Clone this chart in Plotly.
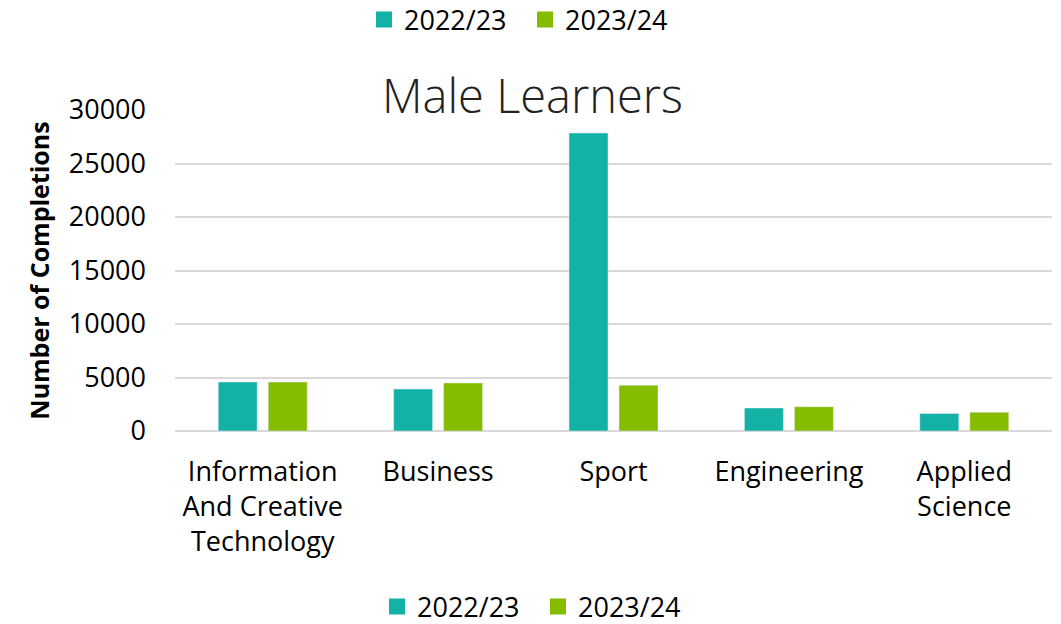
import plotly.graph_objects as go

categories = ['Information<br>And Creative<br>Technology', 'Business', 'Sport', 'Engineering', 'Applied<br>Science']
completions_2022_23 = [4580, 3920, 27850, 2150, 1630]
completions_2023_24 = [4580, 4490, 4270, 2270, 1750]
series_names = ['2022/23', '2023/24']

teal = '#13B1A6'
green = '#86BC00'
font = 'Open Sans'

fig = go.Figure()
fig.add_trace(go.Bar(x=categories, y=completions_2022_23, name=series_names[0],
                     marker=dict(color=teal), showlegend=False))
fig.add_trace(go.Bar(x=categories, y=completions_2023_24, name=series_names[1],
                     marker=dict(color=green), showlegend=False))

# legend entries (big square swatches), shown both above and below the chart
for lg in ['legend', 'legend2']:
    for name, col in zip(series_names, [teal, green]):
        fig.add_trace(go.Scatter(x=[None], y=[None], mode='markers', name=name,
                                 marker=dict(color=col, symbol='square', size=21),
                                 legend=lg))

# white box behind the title that hides the top gridline
fig.add_shape(type='rect', xref='paper', yref='paper',
              x0=(360 - 175) / 877, x1=(870 - 175) / 877, y0=0.97, y1=1.12,
              fillcolor='white', line=dict(width=0), layer='above')
fig.add_annotation(text='Male Learners', xref='paper', yref='paper',
                   x=(532 - 175) / 877, y=(431 - 95) / 321, showarrow=False,
                   xanchor='center', yanchor='middle',
                   font=dict(family=font, size=47, color='#222222', weight=300))

legend_style = dict(orientation='h', xref='container', yref='container',
                    xanchor='left', yanchor='middle',
                    font=dict(family=font, size=27, color='black'),
                    itemwidth=30, entrywidth=116, traceorder='normal',
                    bgcolor='rgba(0,0,0,0)')

fig.update_layout(
    width=1061,
    height=624,
    plot_bgcolor='white',
    paper_bgcolor='white',
    barmode='group',
    bargap=0.43,
    bargroupgap=0.22,
    margin=dict(l=175, r=9, t=110, b=193),
    font=dict(family=font, size=27, color='black'),
    legend=dict(x=364 / 1061, y=1 - 20 / 624, **legend_style),
    legend2=dict(x=377 / 1061, y=1 - 607 / 624, **legend_style),
)
fig.update_xaxes(showgrid=False, showline=False, ticks='', ticklabelstandoff=22,
                 tickfont=dict(size=27))
fig.update_yaxes(range=[0, 30000], tick0=0, dtick=5000, tickformat='d',
                 showgrid=True, gridcolor='#D9D9D9', gridwidth=1.5,
                 zeroline=True, zerolinecolor='#D9D9D9', zerolinewidth=1.5,
                 tickfont=dict(size=27), ticks='', ticklabelstandoff=28,
                 title=dict(text='<b>Number of Completions</b>', standoff=12,
                            font=dict(size=25)))

fig.write_html('out.html', config={'displayModeBar': False},
               post_script="document.body.style.margin='0';")
